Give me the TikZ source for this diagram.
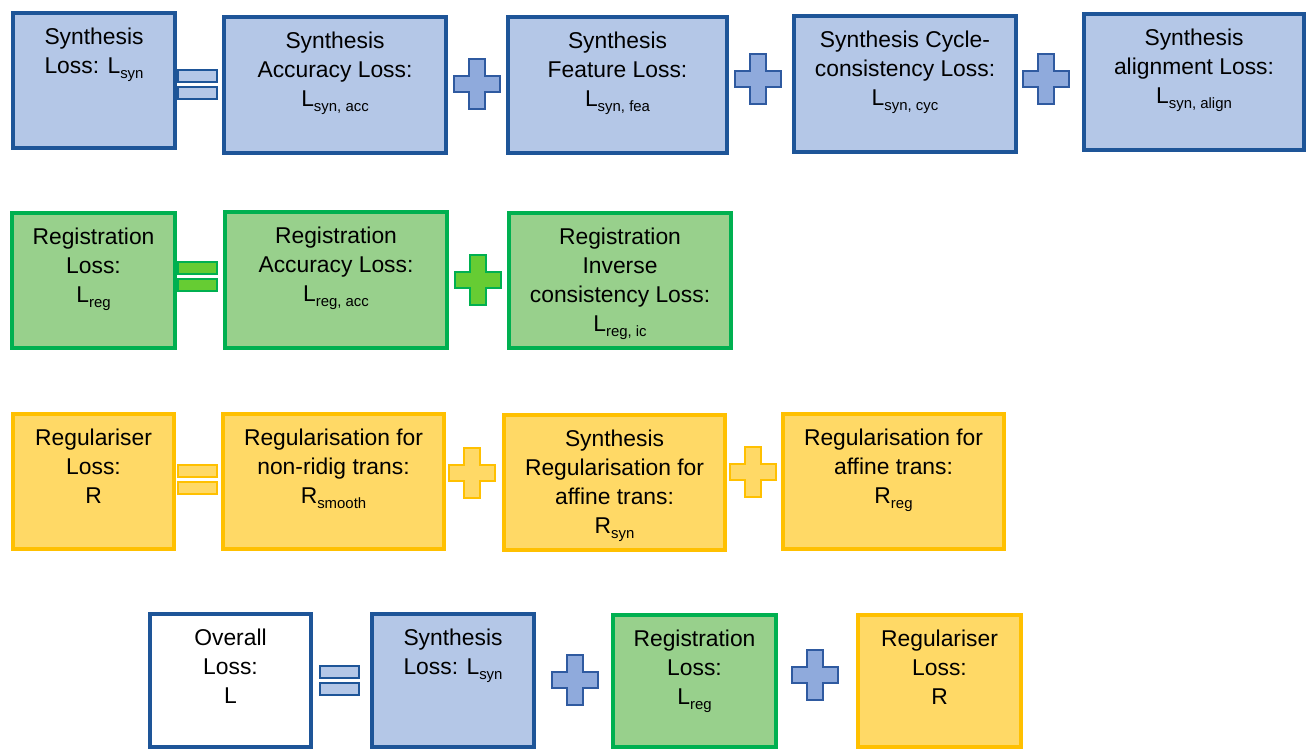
\documentclass[tikz,border=0pt]{standalone}
\usepackage{fontspec}
\setmainfont{Liberation Sans}
\usetikzlibrary{calc}
\definecolor{synfill}{RGB}{180,199,231}
\definecolor{synline}{RGB}{30,85,152}
\definecolor{synplus}{RGB}{143,170,220}
\definecolor{plusline}{RGB}{47,90,160}
\definecolor{regfill}{RGB}{152,208,140}
\definecolor{regline}{RGB}{0,176,80}
\definecolor{regplus}{RGB}{102,204,51}
\definecolor{rfill}{RGB}{255,217,102}
\definecolor{rline}{RGB}{255,192,0}
\tikzset{
  synbox/.style={draw=synline, fill=synfill, line width=2.3pt},
  regbox/.style={draw=regline, fill=regfill, line width=2.3pt},
  rbox/.style={draw=rline, fill=rfill, line width=2.3pt},
  allbox/.style={draw=synline, fill=white, line width=2.3pt},
  txt/.style={anchor=north, align=center, inner sep=0pt, font=\fontsize{13}{16.5}\selectfont},
  synsym/.style={draw=plusline, fill=synplus, line width=0.9pt},
  syneq/.style={draw=synline, fill=synfill, line width=1.2pt},
  regsym/.style={draw=regline, fill=regplus, line width=0.9pt},
  rsym/.style={draw=rline, fill=rfill, line width=0.9pt}
}
\newcommand{\lsub}[1]{\raisebox{-0.4ex}{\fontsize{8.5}{10}\selectfont #1}}
% box from (x1,y1) to (x2,y2), text hangs from the top
\newcommand{\lossbox}[7]{\node[#1, anchor=north west, inner sep=0pt, minimum width={(#5-#3-4)*0.02cm}, minimum height={(#6-#4-4)*0.02cm}] (#2) at (#3+2,#4+2) {};
  \node[txt] (#2t) at ([yshift=-0.34cm]#2.north) {#7};}
\newcommand{\eqsign}[3]{ \filldraw[#3] (#1,#2) rectangle ++(39,12); \filldraw[#3] (#1,#2+17) rectangle ++(39,12);}
\newcommand{\plussign}[3]{ \filldraw[#3] (#1-8,#2-25) -- (#1+8,#2-25) -- (#1+8,#2-8) -- (#1+23,#2-8) -- (#1+23,#2+8) -- (#1+8,#2+8) -- (#1+8,#2+25) -- (#1-8,#2+25) -- (#1-8,#2+8) -- (#1-23,#2+8) -- (#1-23,#2-8) -- (#1-8,#2-8) -- cycle;}

\begin{document}
\begin{tikzpicture}[x=0.02cm, y=-0.02cm]
\useasboundingbox (0,0) rectangle (1306,749);
% row 1: synthesis
\lossbox{synbox}{synL}{9}{9}{175}{148}{Synthesis\\Loss: L\lsub{syn}}
\lossbox{synbox}{synAcc}{220}{13}{446}{153}{Synthesis\\Accuracy Loss:\\L\lsub{syn, acc}}
\lossbox{synbox}{synFea}{504}{13}{727}{153}{Synthesis\\Feature Loss:\\L\lsub{syn, fea}}
\lossbox{synbox}{synCyc}{790}{12}{1016}{152}{Synthesis Cycle-\\consistency Loss:\\L\lsub{syn, cyc}}
\lossbox{synbox}{synAlign}{1080}{10}{1304}{150}{Synthesis\\alignment Loss:\\L\lsub{syn, align}}
\eqsign{178}{70}{syneq}
\plussign{477}{84}{synsym}
\plussign{758}{79}{synsym}
\plussign{1046}{79}{synsym}
% row 2: registration
\lossbox{regbox}{regL}{8}{209}{175}{348}{Registration\\Loss:\\L\lsub{reg}}
\lossbox{regbox}{regAcc}{221}{208}{447}{348}{Registration\\Accuracy Loss:\\L\lsub{reg, acc}}
\lossbox{regbox}{regIc}{505}{209}{731}{348}{Registration\\Inverse\\consistency Loss:\\L\lsub{reg, ic}}
\eqsign{178}{262}{regsym}
\plussign{478}{280}{regsym}
% row 3: regulariser
\lossbox{rbox}{rL}{9}{410}{174}{549}{Regulariser\\Loss:\\R}
\lossbox{rbox}{rSmooth}{219}{410}{444}{549}{Regularisation for\\non-ridig trans:\\R\lsub{smooth}}
\lossbox{rbox}{rSyn}{500}{411}{725}{550}{Synthesis\\Regularisation for\\affine trans:\\R\lsub{syn}}
\lossbox{rbox}{rReg}{779}{410}{1004}{549}{Regularisation for\\affine trans:\\R\lsub{reg}}
\eqsign{178}{465}{rsym}
\plussign{472}{473}{rsym}
\plussign{753}{472}{rsym}
% row 4: overall
\lossbox{allbox}{allL}{146}{610}{311}{747}{Overall\\Loss:\\L}
\lossbox{synbox}{allSyn}{368}{610}{534}{747}{Synthesis\\Loss: L\lsub{syn}}
\lossbox{regbox}{allReg}{609}{611}{776}{747}{Registration\\Loss:\\L\lsub{reg}}
\lossbox{rbox}{allR}{854}{611}{1021}{747}{Regulariser\\Loss:\\R}
\eqsign{320}{666}{syneq}
\plussign{575}{680}{synsym}
\plussign{815}{675}{synsym}
\end{tikzpicture}
\end{document}
